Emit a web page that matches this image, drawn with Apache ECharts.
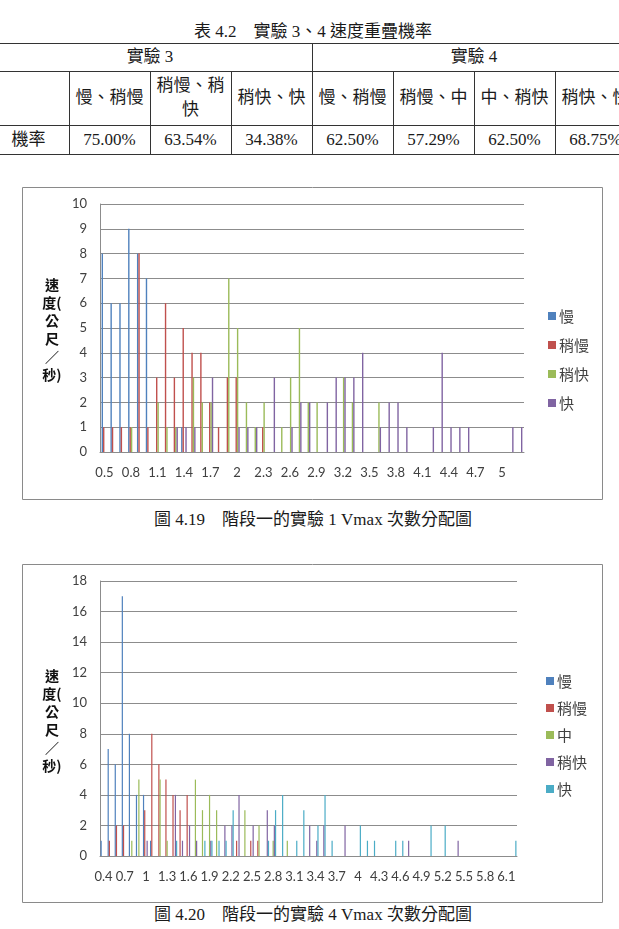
<!DOCTYPE html>
<html lang="zh-Hant">
<head>
<meta charset="UTF-8">
<title>階段一 Vmax 次數分配圖</title>
<script src="https://cdn.jsdelivr.net/npm/echarts@6/dist/echarts.min.js"></script>
<style>
  body { margin: 0; width: 619px; height: 929px; overflow: hidden; background: #fff; position: relative;
         font-family: "Liberation Serif", "Noto Sans CJK TC", serif; color: #1a1a1a; }
  .cap { position: absolute; left: 0; width: 626px; text-align: center; font-size: 17px; line-height: 20px; }
  #tbl { position: absolute; left: 0; top: 0; width: 619px; height: 160px; overflow: hidden; }
  .cell { position: absolute; box-sizing: border-box; display: flex; align-items: center; justify-content: center;
          text-align: center; font-size: 17px; line-height: 24px; padding: 0 2px; }
  .hl { position: absolute; left: 0; width: 619px; height: 1px; background: #333; }
  .vl { position: absolute; width: 1px; background: #333; }
  .chart { position: absolute; left: 22px; width: 581px; }
</style>
</head>
<body>
<div class="cap" style="top:22px">表 4.2　實驗 3、4 速度重疊機率</div>
<div id="tbl"></div>

<div id="chart1" class="chart" style="top:187px;height:313px"></div>
<div class="cap" style="top:510px">圖 4.19　階段一的實驗 1 Vmax 次數分配圖</div>

<div id="chart2" class="chart" style="top:564px;height:339px"></div>
<div class="cap" style="top:905px">圖 4.20　階段一的實驗 4 Vmax 次數分配圖</div>

<script>
// ---- 表 4.2 ----
var groupNames = ['實驗 3', '實驗 4'];
var pairNames = ['慢、稍慢', '稍慢、稍快', '稍快、快', '慢、稍慢', '稍慢、中', '中、稍快', '稍快、快'];
var overlapRates = ['75.00%', '63.54%', '34.38%', '62.50%', '57.29%', '62.50%', '68.75%'];

// ---- 圖 4.19 實驗 1 ----
var cats1 = ['0.5','0.6','0.7','0.8','0.9','1','1.1','1.2','1.3','1.4','1.5','1.6','1.7','1.8','1.9',
             '2','2.1','2.2','2.3','2.4','2.5','2.6','2.7','2.8','2.9','3','3.1','3.2','3.3','3.4',
             '3.5','3.6','3.7','3.8','3.9','4','4.1','4.2','4.3','4.4','4.5','4.6','4.7','4.8','4.9',
             '5','5.1','5.2'];
var names1 = ['慢', '稍慢', '稍快', '快'];
var slow1 =      [8,6,6,9,8,7,0,0,0,1, 0,0,0,0,0,0,0,0,0,0, 0,0,0,0,0,0,0,0,0,0, 0,0,0,0,0,0,0,0,0,0, 0,0,0,0,0,0,0,0];
var slightSlow1 =[1,1,1,1,8,1,3,6,3,5, 4,4,2,1,3,3,0,0,1,0, 0,0,0,0,0,0,0,0,0,0, 0,0,0,0,0,0,0,0,0,0, 0,0,0,0,0,0,0,0];
var slightFast1 =[0,0,0,1,0,0,2,1,1,0, 3,2,2,0,7,5,2,1,2,0, 1,3,5,2,2,0,0,3,2,0, 0,2,0,0,0,0,0,0,0,0, 0,0,0,0,0,0,0,0];
var fast1 =      [0,0,0,0,0,0,0,0,1,1, 1,0,3,0,0,1,1,1,0,3, 0,1,2,2,0,2,3,3,3,4, 0,1,2,2,1,0,0,1,4,1, 1,1,0,0,0,0,1,1];
var yTicks1 = { max: 10, step: 1 };

// ---- 圖 4.20 實驗 4 ----
var cats2 = ['0.4','0.5','0.6','0.7','0.8','0.9','1','1.1','1.2','1.3','1.4','1.5','1.6','1.7','1.8','1.9',
             '2','2.1','2.2','2.3','2.4','2.5','2.6','2.7','2.8','2.9','3','3.1','3.2','3.3','3.4',
             '3.5','3.6','3.7','3.8','3.9','4','4.1','4.2','4.3','4.4','4.5','4.6','4.7','4.8','4.9',
             '5','5.1','5.2','5.3','5.4','5.5','5.6','5.7','5.8','5.9','6','6.1','6.2'];
var names2 = ['慢', '稍慢', '中', '稍快', '快'];
var slow2 =       [1,7,6,17,8,4,4,1,0,0, 0,0,0,0,0,0,0,0,0,0, 0,0,0,0,0,0,0,0,0,0, 0,0,0,0,0,0,0,0,0,0, 0,0,0,0,0,0,0,0,0,0, 0,0,0,0,0,0,0,0,0];
var slightSlow2 = [0,1,2,2,0,0,3,8,6,5, 4,3,4,0,0,0,0,0,0,1, 0,1,1,0,0,0,0,0,0,0, 0,0,0,0,0,0,0,0,0,0, 0,0,0,0,0,0,0,0,0,0, 0,0,0,0,0,0,0,0,0];
var mid2 =        [0,0,0,0,1,5,0,0,5,1, 0,0,0,5,3,4,3,0,0,0, 3,0,2,0,1,0,1,0,0,0, 0,0,0,0,0,0,0,0,0,0, 0,0,0,0,0,0,0,0,0,0, 0,0,0,0,0,0,0,0,0];
var slightFast2 = [0,0,0,0,0,0,1,0,0,0, 4,1,2,1,0,1,0,2,2,4, 0,2,0,3,2,0,0,0,0,2, 1,2,0,0,2,0,0,0,0,0, 0,0,0,1,0,0,0,0,0,0, 1,0,0,0,0,0,0,0,0];
var fast2 =       [0,0,0,0,0,0,0,0,0,0, 1,0,0,0,1,1,1,1,3,0, 0,0,0,1,3,4,0,1,3,0, 2,4,1,0,0,0,2,1,1,0, 0,1,1,0,0,0,2,0,2,0, 0,0,0,0,0,0,0,0,1];
var yTicks2 = { max: 18, step: 2 };

var palette = ['#4F81BD', '#C0504D', '#9BBB59', '#8064A2', '#4BACC6'];

// build the table
(function () {
    var tbl = document.getElementById('tbl');
    var colX = [-12, 69, 150, 231, 312, 393, 474, 555, 636];
    var rowY = [43, 71, 125, 154];
    function cell(x0, x1, y0, y1, text) {
        var d = document.createElement('div');
        d.className = 'cell';
        d.style.left = x0 + 'px'; d.style.width = (x1 - x0) + 'px';
        d.style.top = y0 + 'px'; d.style.height = (y1 - y0) + 'px';
        d.textContent = text;
        tbl.appendChild(d);
    }
    function line(cls, x, y, len) {
        var d = document.createElement('div');
        d.className = cls;
        d.style.top = y + 'px';
        if (cls === 'vl') { d.style.left = x + 'px'; d.style.height = len + 'px'; }
        tbl.appendChild(d);
    }
    cell(colX[0], colX[4], rowY[0], rowY[1], groupNames[0]);
    cell(colX[4], colX[8], rowY[0], rowY[1], groupNames[1]);
    pairNames.forEach(function (t, k) { cell(colX[k + 1], colX[k + 2], rowY[1], rowY[2], t); });
    cell(colX[0], colX[1], rowY[2], rowY[3], '機率');
    overlapRates.forEach(function (t, k) { cell(colX[k + 1], colX[k + 2], rowY[2], rowY[3], t); });
    rowY.forEach(function (y) { line('hl', 0, y); });
    line('vl', colX[4], rowY[0], rowY[3] - rowY[0]);
    [1, 2, 3, 5, 6, 7].forEach(function (k) { line('vl', colX[k], rowY[1], rowY[3] - rowY[1]); });
})();

function barChart(domId, cats, names, seriesData, yTicks, cfg) {
    var chart = echarts.init(document.getElementById(domId));
    var axisGray = '#8c8c8c';
    var series = seriesData.map(function (d, i) {
        return {
            name: names[i], type: 'bar', data: d,
            barWidth: cfg.barWidth, barGap: '0%',
            itemStyle: { color: palette[cfg.colorIdx[i]] }
        };
    });
    chart.setOption({
        animation: false,
        color: cfg.colorIdx.map(function (c) { return palette[c]; }),
        grid: cfg.grid,
        legend: {
            orient: 'vertical', left: cfg.legendLeft, top: cfg.legendTop,
            icon: 'rect', itemWidth: 8, itemHeight: 8, itemGap: cfg.legendGap, padding: 0,
            textStyle: { fontSize: 15, lineHeight: 16, color: '#404040', fontFamily: 'Noto Sans CJK TC', padding: [0, 0, 0, -2] },
            data: names
        },
        xAxis: {
            type: 'category', data: cats,
            axisTick: { show: false },
            axisLine: { lineStyle: { color: axisGray } },
            axisLabel: { interval: 2, margin: 14, fontSize: 13, color: '#404040', fontFamily: 'Lato' }
        },
        yAxis: {
            type: 'value', min: 0, max: yTicks.max, interval: yTicks.step,
            axisLine: { show: true, lineStyle: { color: axisGray } },
            axisTick: { show: false },
            splitLine: { lineStyle: { color: axisGray } },
            axisLabel: { margin: 13, fontSize: 13, color: '#404040', fontFamily: 'Lato' }
        },
        graphic: [
            { type: 'rect', silent: true, z: -1,
              shape: { x: 0.5, y: 0.5, width: cfg.frame[0] - 1, height: cfg.frame[1] - 1 },
              style: { fill: 'none', stroke: '#8a8a8a', lineWidth: 1 } },
            { type: 'text', x: 30, y: cfg.titleY, silent: true,
              style: { text: '速\n度(\n公\n尺\n／\n秒)', font: 'bold 14px "Noto Sans CJK TC"', lineHeight: 18,
                       align: 'center', verticalAlign: 'middle', fill: '#111' } }
        ],
        series: series
    });
    return chart;
}

barChart('chart1', cats1, names1, [slow1, slightSlow1, slightFast1, fast1], yTicks1, {
    grid: { left: 78, right: 79, top: 17, bottom: 48 },
    barWidth: 1.4, colorIdx: [0, 1, 2, 3],
    legendLeft: 526, legendTop: 121, legendGap: 13,
    frame: [581, 313], titleY: 143
});

barChart('chart2', cats2, names2, [slow2, slightSlow2, mid2, slightFast2, fast2], yTicks2, {
    grid: { left: 78, right: 86, top: 17, bottom: 47 },
    barWidth: 1.2, colorIdx: [0, 1, 2, 3, 4],
    legendLeft: 524, legendTop: 109, legendGap: 11,
    frame: [581, 339], titleY: 157
});
</script>
</body>
</html>
